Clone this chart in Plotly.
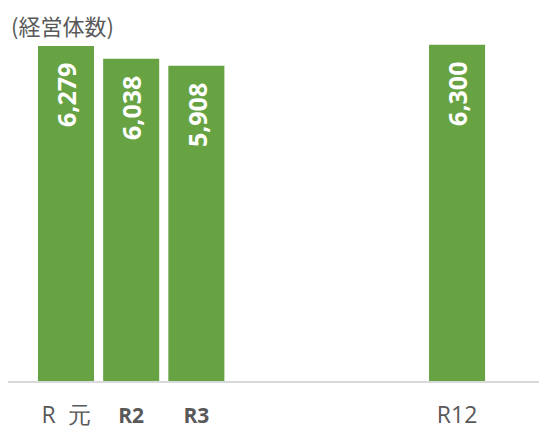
import plotly.graph_objects as go

categories = ["R元", "R2", "R3", " ", "  ", "   ", "R12"]
values = [6279, 6038, 5908, None, None, None, 6300]
tick_labels = [
    "R  元",
    "<span style='font-size:21px'><b>R2</b></span>",
    "<span style='font-size:21px'><b>R3</b></span>",
    "", "", "",
    "R12",
]
y_title = "(経営体数)"

bar_color = "#67A342"
fig = go.Figure()
fig.add_trace(go.Bar(
    x=categories, y=values,
    marker=dict(color=bar_color, line=dict(width=0)),
    width=0.86,
    hoverinfo="skip",
))

annotations = []
for c, v in zip(categories, values):
    if v is None:
        continue
    annotations.append(dict(
        x=c, y=v, xref="x", yref="y",
        text=f"<b>{v:,}</b>", showarrow=False, textangle=-90,
        xanchor="center", yanchor="top", yshift=-15,
        font=dict(family="Open Sans", size=25, color="white"),
    ))
annotations.append(dict(
    x=0, y=1, xref="paper", yref="paper", xanchor="left", yanchor="top",
    xshift=2, yshift=0, borderpad=0, text=y_title, showarrow=False,
    font=dict(family="Noto Sans CJK JP", size=22, color="#595959"),
))

fig.update_layout(
    width=539, height=424,
    margin=dict(l=0, r=0, t=0, b=51),
    paper_bgcolor="white", plot_bgcolor="white",
    showlegend=False,
    annotations=annotations,
    xaxis=dict(
        type="category", range=[-0.89, 7.38],
        tickmode="array", tickvals=categories, ticktext=tick_labels,
        showline=True, linecolor="#D9D9D9", linewidth=2,
        showgrid=False, zeroline=False, ticks="",
        ticklabelstandoff=12,
        tickfont=dict(family="Open Sans", size=23, color="#595959"),
    ),
    yaxis=dict(range=[0, 6990], visible=False, showgrid=False, zeroline=False),
)

fig.write_html("out.html")
